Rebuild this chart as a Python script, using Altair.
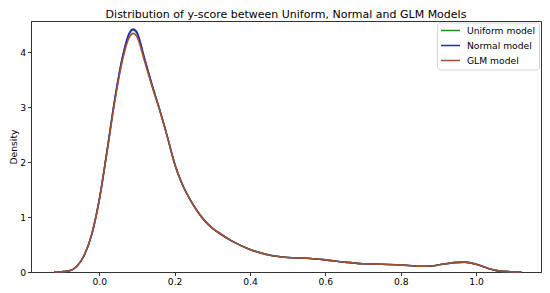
import altair as alt
import pandas as pd

# y-score grid (x) and KDE densities
x_vals = [-0.12, -0.10, -0.08, -0.06, -0.04, -0.02, 0.00, 0.02, 0.04, 0.06, 0.08, 0.09,
          0.10, 0.12, 0.14, 0.16, 0.18, 0.20, 0.22, 0.24, 0.26, 0.28, 0.30, 0.32, 0.35,
          0.40, 0.45, 0.50, 0.55, 0.60, 0.65, 0.70, 0.75, 0.80, 0.85, 0.88, 0.91, 0.94,
          0.97, 1.00, 1.03, 1.06, 1.09, 1.12]

uniform_density = [0.0, 0.005, 0.02, 0.10, 0.30, 0.68, 1.31, 2.17, 3.08, 3.84, 4.33, 4.40,
                   4.34, 3.88, 3.40, 2.96, 2.48, 1.97, 1.60, 1.33, 1.11, 0.93, 0.80, 0.70, 0.57,
                   0.41, 0.31, 0.265, 0.25, 0.22, 0.18, 0.15, 0.14, 0.13, 0.105, 0.11, 0.14, 0.17,
                   0.18, 0.14, 0.07, 0.02, 0.005, 0.0]

normal_density = [0.0, 0.005, 0.02, 0.10, 0.30, 0.68, 1.31, 2.17, 3.09, 3.86, 4.35, 4.42,
                  4.36, 3.89, 3.41, 2.96, 2.48, 1.97, 1.60, 1.33, 1.11, 0.93, 0.80, 0.70, 0.57,
                  0.41, 0.31, 0.265, 0.25, 0.22, 0.18, 0.15, 0.14, 0.13, 0.105, 0.11, 0.14, 0.17,
                  0.18, 0.14, 0.07, 0.02, 0.005, 0.0]

glm_density = [0.0, 0.005, 0.02, 0.10, 0.30, 0.68, 1.30, 2.15, 3.05, 3.80, 4.27, 4.34,
               4.28, 3.84, 3.38, 2.95, 2.48, 1.97, 1.60, 1.33, 1.11, 0.93, 0.80, 0.70, 0.57,
               0.41, 0.31, 0.265, 0.25, 0.22, 0.18, 0.15, 0.14, 0.13, 0.105, 0.11, 0.14, 0.17,
               0.18, 0.14, 0.07, 0.02, 0.005, 0.0]

models = ["Uniform model", "Normal model", "GLM model"]
colors = ["forestgreen", "#2626c8", "sienna"]
x_ticks = [0.0, 0.2, 0.4, 0.6, 0.8, 1.0]
y_ticks = [0, 1, 2, 3, 4]

rows = []
for name, dens in zip(models, [uniform_density, normal_density, glm_density]):
    for xv, dv in zip(x_vals, dens):
        rows.append({"y-score": xv, "Density": dv, "model": name})
df = pd.DataFrame(rows)

FONT = "DejaVu Sans"

chart = alt.Chart(df).mark_line(strokeWidth=1.6, interpolate="monotone").encode(
    x=alt.X("y-score:Q",
            scale=alt.Scale(domain=[-0.181, 1.172], nice=False, zero=False),
            axis=alt.Axis(values=x_ticks, format=".1f", title=None, grid=False,
                          labelFontSize=9.2, tickSize=3.5, labelPadding=2)),
    y=alt.Y("Density:Q",
            scale=alt.Scale(domain=[0, 4.565], nice=False),
            axis=alt.Axis(values=y_ticks, format="d", title="Density", grid=False,
                          labelFontSize=9.2, titleFontSize=9.2, titleFontWeight="normal",
                          tickSize=3.5, labelPadding=2, titlePadding=1.5)),
    color=alt.Color("model:N",
                    scale=alt.Scale(domain=models, range=colors),
                    legend=alt.Legend(title=None, orient="none", legendX=406, legendY=1.5,
                                      fillColor="white", strokeColor="#d5d5d5",
                                      cornerRadius=3, padding=3, rowPadding=4,
                                      clipHeight=10,
                                      symbolType="stroke", symbolSize=361,
                                      symbolStrokeWidth=1.6, labelFontSize=9.2,
                                      labelOffset=6)),
    order=alt.Order("model:N"),
).properties(
    width=510,
    height=251,
    title=alt.TitleParams("Distribution of y-score between Uniform, Normal and GLM Models",
                          fontSize=11, fontWeight="normal", offset=1, anchor="middle",
                          font=FONT, color="black"),
    padding={"left": 23, "top": 13, "right": 1, "bottom": 16},
    autosize=alt.AutoSizeParams(type="none"),
).configure(
    font=FONT,
).configure_axis(
    domainColor="#333333",
    tickColor="#333333",
    labelColor="black",
    titleColor="black",
    labelFont=FONT,
    titleFont=FONT,
).configure_legend(
    labelFont=FONT,
    labelColor="black",
).configure_view(
    stroke="#333333",
    strokeWidth=1,
)

chart.save("out.html", embed_options={"renderer": "svg", "actions": False})
